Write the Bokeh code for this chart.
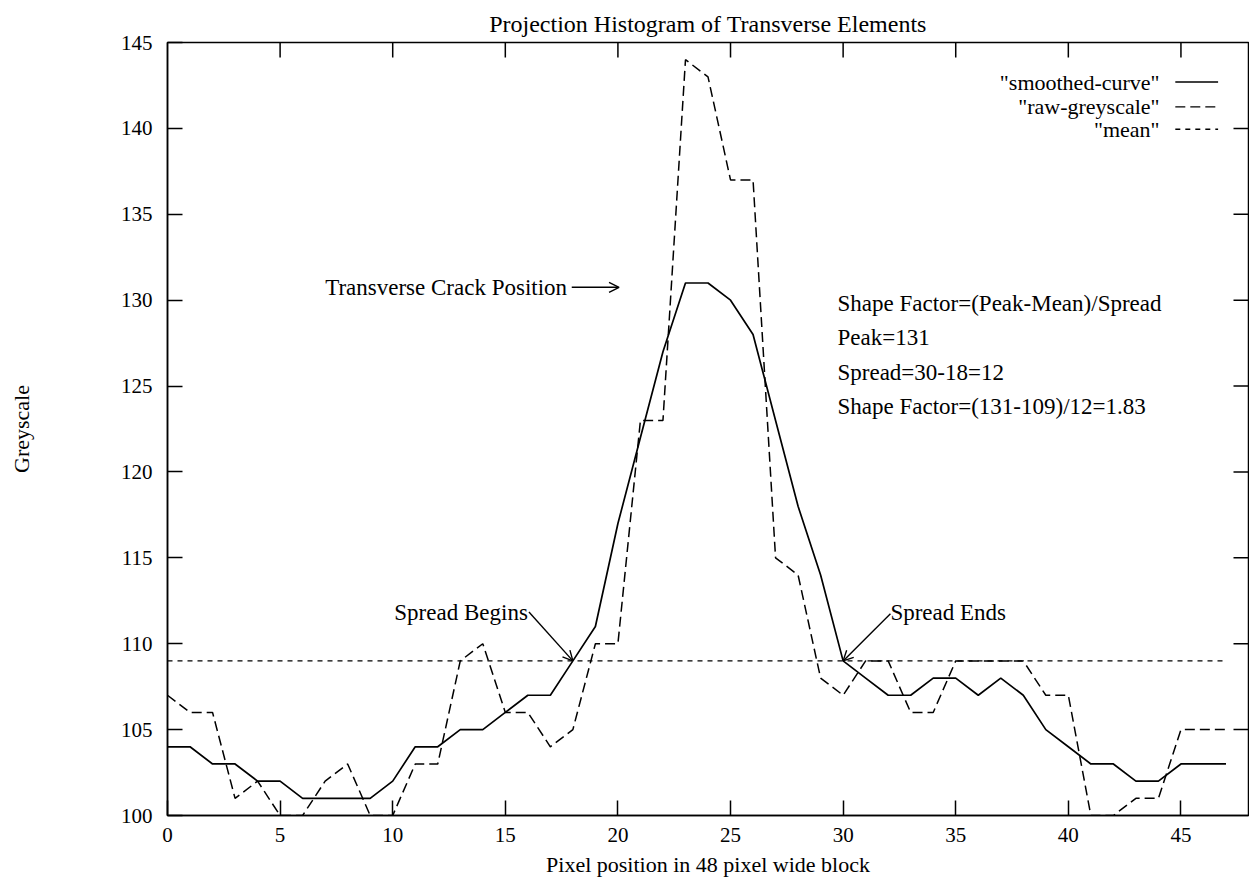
from bokeh.plotting import figure
from bokeh.models import Range1d, Label, Arrow, OpenHead, FixedTicker
from bokeh.embed import file_html
from bokeh.resources import INLINE

FONT = "Liberation Serif"

# Projection histogram of a 48-pixel-wide block
pixel = list(range(48))
smoothed = [104, 104, 103, 103, 102, 102, 101, 101, 101, 101,
            102, 104, 104, 105, 105, 106, 107, 107, 109, 111,
            117, 122, 127, 131, 131, 130, 128, 123, 118, 114,
            109, 108, 107, 107, 108, 108, 107, 108, 107, 105,
            104, 103, 103, 102, 102, 103, 103, 103]
raw = [107, 106, 106, 101, 102, 100, 100, 102, 103, 100,
       100, 103, 103, 109, 110, 106, 106, 104, 105, 110,
       110, 123, 123, 144, 143, 137, 137, 115, 114, 108,
       107, 109, 109, 106, 106, 109, 109, 109, 109, 107,
       107, 100, 100, 101, 101, 105, 105, 105]
mean_x = [0, 47]
mean_level = [109, 109]

x_ticks = [0, 5, 10, 15, 20, 25, 30, 35, 40, 45]
y_ticks = [100, 105, 110, 115, 120, 125, 130, 135, 140, 145]

legend_labels = ['"smoothed-curve"', '"raw-greyscale"', '"mean"']
shape_lines = ["Shape Factor=(Peak-Mean)/Spread",
               "Peak=131",
               "Spread=30-18=12",
               "Shape Factor=(131-109)/12=1.83"]

X_MIN, X_MAX = 0, 48
Y_MIN, Y_MAX = 100, 145

p = figure(width=1249, height=882,
           x_range=Range1d(X_MIN, X_MAX), y_range=Range1d(Y_MIN, Y_MAX),
           output_backend="svg", toolbar_location=None,
           min_border_left=167, min_border_right=1,
           min_border_top=42, min_border_bottom=67,
           background_fill_color="white", border_fill_color="white")

p.title.text = "Projection Histogram of Transverse Elements"
p.title.text_font = FONT
p.title.text_font_size = "24px"
p.title.text_font_style = "normal"
p.title.text_color = "black"
p.title.align = "center"
p.title.standoff = 11

p.xgrid.grid_line_color = None
p.ygrid.grid_line_color = None
p.outline_line_color = "black"
p.outline_line_width = 1.5

def style_axis(ax, ticks):
    ax.ticker = FixedTicker(ticks=ticks)
    ax.axis_line_color = "black"
    ax.axis_line_width = 1.5
    ax.major_tick_in = 15
    ax.major_tick_out = 0
    ax.major_tick_line_width = 1.5
    ax.minor_tick_line_color = None
    ax.major_label_text_font = FONT
    ax.major_label_text_color = "black"
    ax.major_label_text_font_size = "21px"
    ax.axis_label_text_font = FONT
    ax.axis_label_text_font_size = "22px"
    ax.axis_label_text_font_style = "normal"
    ax.axis_label_text_color = "black"

style_axis(p.xaxis[0], x_ticks)
style_axis(p.yaxis[0], y_ticks)
p.xaxis[0].axis_label = "Pixel position in 48 pixel wide block"
p.yaxis[0].axis_label = "Greyscale"
p.xaxis[0].major_label_standoff = 12
p.yaxis[0].major_label_standoff = 15
p.xaxis[0].axis_label_standoff = 7
p.yaxis[0].axis_label_standoff = 84

# mirrored inward ticks on the top and right borders
tick_dx = 15 * (X_MAX - X_MIN) / 1081
tick_dy = 15 * (Y_MAX - Y_MIN) / 773
top_ticks = x_ticks[1:]
right_ticks = y_ticks[1:-1]
p.segment(x0=top_ticks, y0=[Y_MAX] * len(top_ticks),
          x1=top_ticks, y1=[Y_MAX - tick_dy] * len(top_ticks),
          line_color="black", line_width=1.5)
p.segment(x0=[X_MAX] * len(right_ticks), y0=right_ticks,
          x1=[X_MAX - tick_dx] * len(right_ticks), y1=right_ticks,
          line_color="black", line_width=1.5)

# data series
p.line(mean_x, mean_level, line_color="black", line_width=1.3, line_dash="5 5")
p.line(pixel, raw, line_color="black", line_width=1.5, line_dash="10 5")
p.line(pixel, smoothed, line_color="black", line_width=1.7)

# key, drawn text first then sample
key_y = [142.7, 141.25, 139.95]
key_dash = ["solid", "10 5", "5 5"]
for lab, ky, dash in zip(legend_labels, key_y, key_dash):
    p.add_layout(Label(x=44.05, y=ky, text=lab, text_align="right",
                       text_baseline="middle", text_font=FONT,
                       text_font_size="22px", text_color="black"))
    p.add_layout(Arrow(x_start=44.75, y_start=ky, x_end=46.65, y_end=ky,
                       end=None, line_color="black", line_width=1.4,
                       line_dash=dash))

# annotations
def note(x, y, text, align="left"):
    p.add_layout(Label(x=x, y=y, text=text, text_align=align,
                       text_baseline="middle", text_font=FONT,
                       text_font_size="23px", text_color="black"))

def pointer(x0, y0, x1, y1):
    p.add_layout(Arrow(x_start=x0, y_start=y0, x_end=x1, y_end=y1,
                       line_color="black", line_width=1.4,
                       end=OpenHead(size=10, line_width=1.4, line_color="black")))

note(7.0, 130.75, "Transverse Crack Position")
pointer(17.95, 130.75, 20.05, 130.75)

note(16.0, 111.8, "Spread Begins", align="right")
pointer(16.05, 111.85, 18.0, 109.0)

note(32.1, 111.8, "Spread Ends")
pointer(32.1, 111.75, 30.0, 109.0)

for i, line in enumerate(shape_lines):
    note(29.75, 129.8 - 2.0 * i, line)

open("out.html", "w").write(file_html(p, INLINE))
